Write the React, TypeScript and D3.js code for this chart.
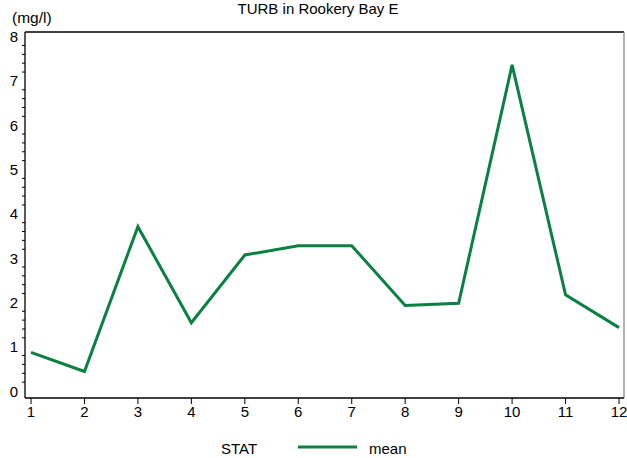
import React from "react";
import * as d3 from "d3";

const months = [1, 2, 3, 4, 5, 6, 7, 8, 9, 10, 11, 12];
const meanValues = [0.87, 0.44, 3.71, 1.54, 3.07, 3.28, 3.28, 1.93, 1.98, 7.36, 2.17, 1.43];
const yTicks = [0, 1, 2, 3, 4, 5, 6, 7, 8];
const title = "TURB in Rookery Bay E";
const yUnit = "(mg/l)";
const legendTitle = "STAT";
const legendLabel = "mean";

const W = 627;
const H = 458;
const frame = { left: 25, right: 624, top: 32, bottom: 398 };
const green = "#0b8043";
const font = "'Liberation Sans', Arial, sans-serif";

export default function App() {
  const x = d3.scaleLinear().domain([1, 12]).range([31, 619]);
  const y = d3.scaleLinear().domain([0, 8]).range([391, 36.6]);
  const line = d3
    .line<number>()
    .x((_, i) => x(months[i]))
    .y((d) => y(d));

  const minor: number[] = [];
  for (let v = 0; v < 8.01; v += 0.2) {
    const r = Math.round(v * 5);
    if (r % 5 !== 0) minor.push(v);
  }

  return (
    <svg
      width={W}
      height={H}
      style={{ position: "absolute", left: 0, top: 0, display: "block", background: "#fff" }}
      fontFamily={font}
    >
      <rect x={0} y={0} width={W} height={H} fill="#fff" />
      <text x={318} y={14} textAnchor="middle" fontSize={15} fill="#000">
        {title}
      </text>
      <text x={12} y={23} fontSize={15.5} fill="#000">
        {yUnit}
      </text>
      {/* frame */}
      <line x1={frame.left} y1={frame.top} x2={frame.right} y2={frame.top} stroke="#000" strokeWidth={1.3} />
      <line x1={frame.right} y1={frame.top} x2={frame.right} y2={frame.bottom} stroke="#888" strokeWidth={1.3} />
      <line x1={frame.left} y1={frame.top} x2={frame.left} y2={frame.bottom} stroke="#000" strokeWidth={1.3} />
      <line x1={frame.left} y1={frame.bottom} x2={frame.right} y2={frame.bottom} stroke="#000" strokeWidth={1.3} />
      {/* y minor ticks */}
      {minor.map((v) => (
        <line key={"m" + v} x1={frame.left - 3} x2={frame.left} y1={y(v)} y2={y(v)} stroke="#000" strokeWidth={1} />
      ))}
      {yTicks.map((v) => (
        <text key={"y" + v} x={18} y={y(v) + 5.5} textAnchor="end" fontSize={15} fill="#000">
          {v}
        </text>
      ))}
      {/* x ticks */}
      {months.map((m) => (
        <g key={"x" + m}>
          <line x1={x(m)} x2={x(m)} y1={frame.bottom} y2={frame.bottom + 6} stroke="#000" strokeWidth={1} />
          <text x={x(m)} y={frame.bottom + 19} textAnchor="middle" fontSize={15} fill="#000">
            {m}
          </text>
        </g>
      ))}
      <path d={line(meanValues) || ""} fill="none" stroke={green} strokeWidth={3} strokeLinejoin="miter" />
      {/* legend */}
      <text x={221} y={454} fontSize={15} fill="#000">
        {legendTitle}
      </text>
      <line x1={298} x2={357} y1={447} y2={447} stroke={green} strokeWidth={3} />
      <text x={369} y={454} fontSize={15} fill="#000">
        {legendLabel}
      </text>
    </svg>
  );
}
